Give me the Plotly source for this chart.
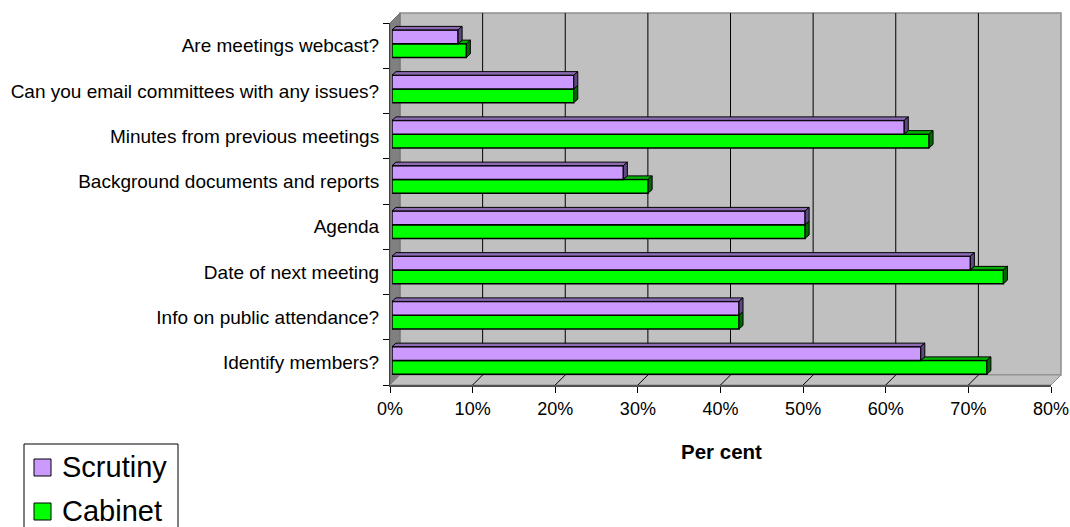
import plotly.graph_objects as go

# ---- data -------------------------------------------------------------
categories = [
    "Are meetings webcast?",
    "Can you email committees with any issues?",
    "Minutes from previous meetings",
    "Background documents and reports",
    "Agenda",
    "Date of next meeting",
    "Info on public attendance?",
    "Identify members?",
]
scrutiny = [8, 22, 62, 28, 50, 70, 42, 64]
cabinet = [9, 22, 65, 31, 50, 74, 42, 72]
tick_values = [0, 10, 20, 30, 40, 50, 60, 70, 80]
tick_labels = ["0%", "10%", "20%", "30%", "40%", "50%", "60%", "70%", "80%"]
series_names = ["Scrutiny", "Cabinet"]

# ---- geometry (pixels) ------------------------------------------------
W, H = 1070, 527
FX0, FX1 = 390, 1051          # front plane: 0% .. 80%
FY0, FY1 = 23, 385            # front plane: top .. floor edge
DEPTH = 10                    # depth of the walls
SHIFT = 2                     # bars sit slightly behind the front plane
XMAX = 80
PXPCT = (FX1 - FX0) / XMAX
BAND = (FY1 - FY0) / len(categories)

BW = 13.75 / BAND             # bar thickness in category units
DX = 4.0 / PXPCT              # bar depth, x (percent units)
DY = 3.5 / BAND               # bar depth, y (category units)

FONT = "Liberation Sans, Arial, sans-serif"
SCR_FRONT, SCR_TOP, SCR_SIDE = "#CC99FF", "#8C6BB3", "#5E4A80"
CAB_FRONT, CAB_TOP, CAB_SIDE = "#00FF00", "#00B000", "#006A00"


def px(x):
    return x / W


def py(y):
    return 1 - y / H


n = len(categories)
pos = [n - 1 - i for i in range(n)]

fig = go.Figure()

# front faces
fig.add_trace(go.Bar(
    x=cabinet, y=pos, orientation="h", base=0, width=BW, offset=-BW,
    marker=dict(color=CAB_FRONT, line=dict(color="black", width=1.5)),
    name=series_names[1], xaxis="x", yaxis="y", hoverinfo="x+name",
))
fig.add_trace(go.Bar(
    x=scrutiny, y=pos, orientation="h", base=0, width=BW, offset=0,
    marker=dict(color=SCR_FRONT, line=dict(color="black", width=1.5)),
    name=series_names[0], xaxis="x", yaxis="y", hoverinfo="x+name",
))


def polys(list_of_pts):
    xs, ys = [], []
    for pts in list_of_pts:
        for (a, b) in pts + [pts[0]]:
            xs.append(a)
            ys.append(b)
        xs.append(None)
        ys.append(None)
    return xs, ys


# 3-D faces, drawn lower bar first so the upper one covers it
cab_top, cab_side, scr_top, scr_side = [], [], [], []
for p, s, c in zip(pos, scrutiny, cabinet):
    yb = p - BW
    if c > s:
        cab_top.append([(s, p), (c, p), (c + DX, p + DY), (s + DX, p + DY)])
        cab_side.append([(c, yb), (c, p), (c + DX, p + DY), (c + DX, yb + DY)])
    elif c == s:
        cab_side.append([(c, yb), (c, p), (c + DX, p + DY), (c + DX, yb + DY)])
    else:
        cab_side.append([(c, yb), (c, p), (c + DX, p), (c + DX, yb + DY)])
    yt = p + BW
    scr_top.append([(0, yt), (s, yt), (s + DX, yt + DY), (DX, yt + DY)])
    scr_side.append([(s, p), (s, yt), (s + DX, yt + DY), (s + DX, p + DY)])

for faces, col in [(cab_top, CAB_TOP), (cab_side, CAB_SIDE),
                   (scr_top, SCR_TOP), (scr_side, SCR_SIDE)]:
    xs, ys = polys(faces)
    fig.add_trace(go.Scatter(
        x=xs, y=ys, mode="lines", fill="toself", fillcolor=col,
        line=dict(color="black", width=1), xaxis="x", yaxis="y",
        hoverinfo="skip", showlegend=False, cliponaxis=False,
    ))

# empty trace so the front-plane axes get a subplot
fig.add_trace(go.Scatter(x=[None], y=[None], xaxis="x2", yaxis="y2",
                         showlegend=False, hoverinfo="skip"))

# ---- walls, floor and gridlines --------------------------------------
shapes = []
# back wall
shapes.append(dict(type="rect", xref="paper", yref="paper",
                   x0=px(FX0 + DEPTH), x1=px(FX1 + DEPTH),
                   y0=py(FY1 - DEPTH), y1=py(FY0 - DEPTH),
                   fillcolor="#C0C0C0", line=dict(color="#8F8F8F", width=1.5),
                   layer="below"))
# left side wall
shapes.append(dict(type="path", xref="paper", yref="paper",
                   path=f"M{px(FX0)},{py(FY0)} L{px(FX0 + DEPTH)},{py(FY0 - DEPTH)} "
                        f"L{px(FX0 + DEPTH)},{py(FY1 - DEPTH)} L{px(FX0)},{py(FY1)} Z",
                   fillcolor="#808080", line=dict(color="#707070", width=1),
                   layer="below"))
# floor
shapes.append(dict(type="path", xref="paper", yref="paper",
                   path=f"M{px(FX0)},{py(FY1)} L{px(FX0 + DEPTH)},{py(FY1 - DEPTH)} "
                        f"L{px(FX1 + DEPTH)},{py(FY1 - DEPTH)} L{px(FX1)},{py(FY1)} Z",
                   fillcolor="#C0C0C0", line=dict(color="#8F8F8F", width=1),
                   layer="below"))
# gridlines on the back wall and the floor
for t in tick_values[1:-1]:
    xf = FX0 + t * PXPCT
    shapes.append(dict(type="line", xref="paper", yref="paper",
                       x0=px(xf + DEPTH), x1=px(xf + DEPTH),
                       y0=py(FY1 - DEPTH), y1=py(FY0 - DEPTH),
                       line=dict(color="black", width=1), layer="below"))
    shapes.append(dict(type="line", xref="paper", yref="paper",
                       x0=px(xf), x1=px(xf + DEPTH),
                       y0=py(FY1), y1=py(FY1 - DEPTH),
                       line=dict(color="black", width=1), layer="below"))

# legend box and swatches
shapes.append(dict(type="rect", xref="paper", yref="paper",
                   x0=px(24), x1=px(178), y0=py(545), y1=py(444),
                   fillcolor="white", line=dict(color="black", width=1)))
for k, col in enumerate([SCR_FRONT, CAB_FRONT]):
    y0 = 459 + k * 44
    shapes.append(dict(type="rect", xref="paper", yref="paper",
                       x0=px(34), x1=px(51), y0=py(y0 + 17), y1=py(y0),
                       fillcolor=col, line=dict(color="black", width=1)))

annotations = [
    dict(text="<b>Per cent</b>", x=px(721), y=py(451), xref="paper", yref="paper",
         xanchor="center", yanchor="middle", showarrow=False,
         font=dict(family=FONT, size=20.5, color="black")),
]
for k, name in enumerate(series_names):
    annotations.append(dict(text=name, x=px(60), y=py(467 + k * 44),
                            xref="paper", yref="paper", xanchor="left",
                            yanchor="middle", showarrow=False,
                            font=dict(family=FONT, size=29, color="black")))

fig.update_layout(
    width=W, height=H, margin=dict(l=0, r=0, t=0, b=0, autoexpand=False),
    paper_bgcolor="white", plot_bgcolor="rgba(0,0,0,0)",
    showlegend=False, barmode="overlay",
    font=dict(family=FONT, size=18, color="black"),
    shapes=shapes, annotations=annotations,
    xaxis=dict(domain=[px(FX0 + SHIFT), px(FX1 + SHIFT)], range=[0, XMAX],
               visible=False, anchor="y", fixedrange=True, automargin=False),
    yaxis=dict(domain=[py(FY1 - SHIFT), py(FY0 - SHIFT)], range=[-0.5, n - 0.5],
               visible=False, anchor="x", fixedrange=True, automargin=False),
    xaxis2=dict(domain=[px(FX0), px(FX1)], range=[0, XMAX], anchor="y2",
                tickmode="array", tickvals=tick_values, ticktext=tick_labels,
                ticks="outside", ticklen=6, tickcolor="black", tickwidth=1,
                showline=True, linecolor="#505050", linewidth=2,
                showgrid=False, zeroline=False, fixedrange=True, automargin=False,
                tickfont=dict(family=FONT, size=18, color="black")),
    yaxis2=dict(domain=[py(FY1), py(FY0)], range=[-0.5, n - 0.5], anchor="x2",
                tickmode="array", tickvals=pos, ticktext=categories,
                ticks="", ticklabelstandoff=6,
                minor=dict(tickmode="array",
                           tickvals=[v - 0.5 for v in range(n + 1)],
                           ticks="outside", ticklen=6, tickcolor="black"),
                showline=True, linecolor="#404040", linewidth=1,
                showgrid=False, zeroline=False, fixedrange=True, automargin=False,
                tickfont=dict(family=FONT, size=19, color="black")),
)

fig.write_html("out.html")
